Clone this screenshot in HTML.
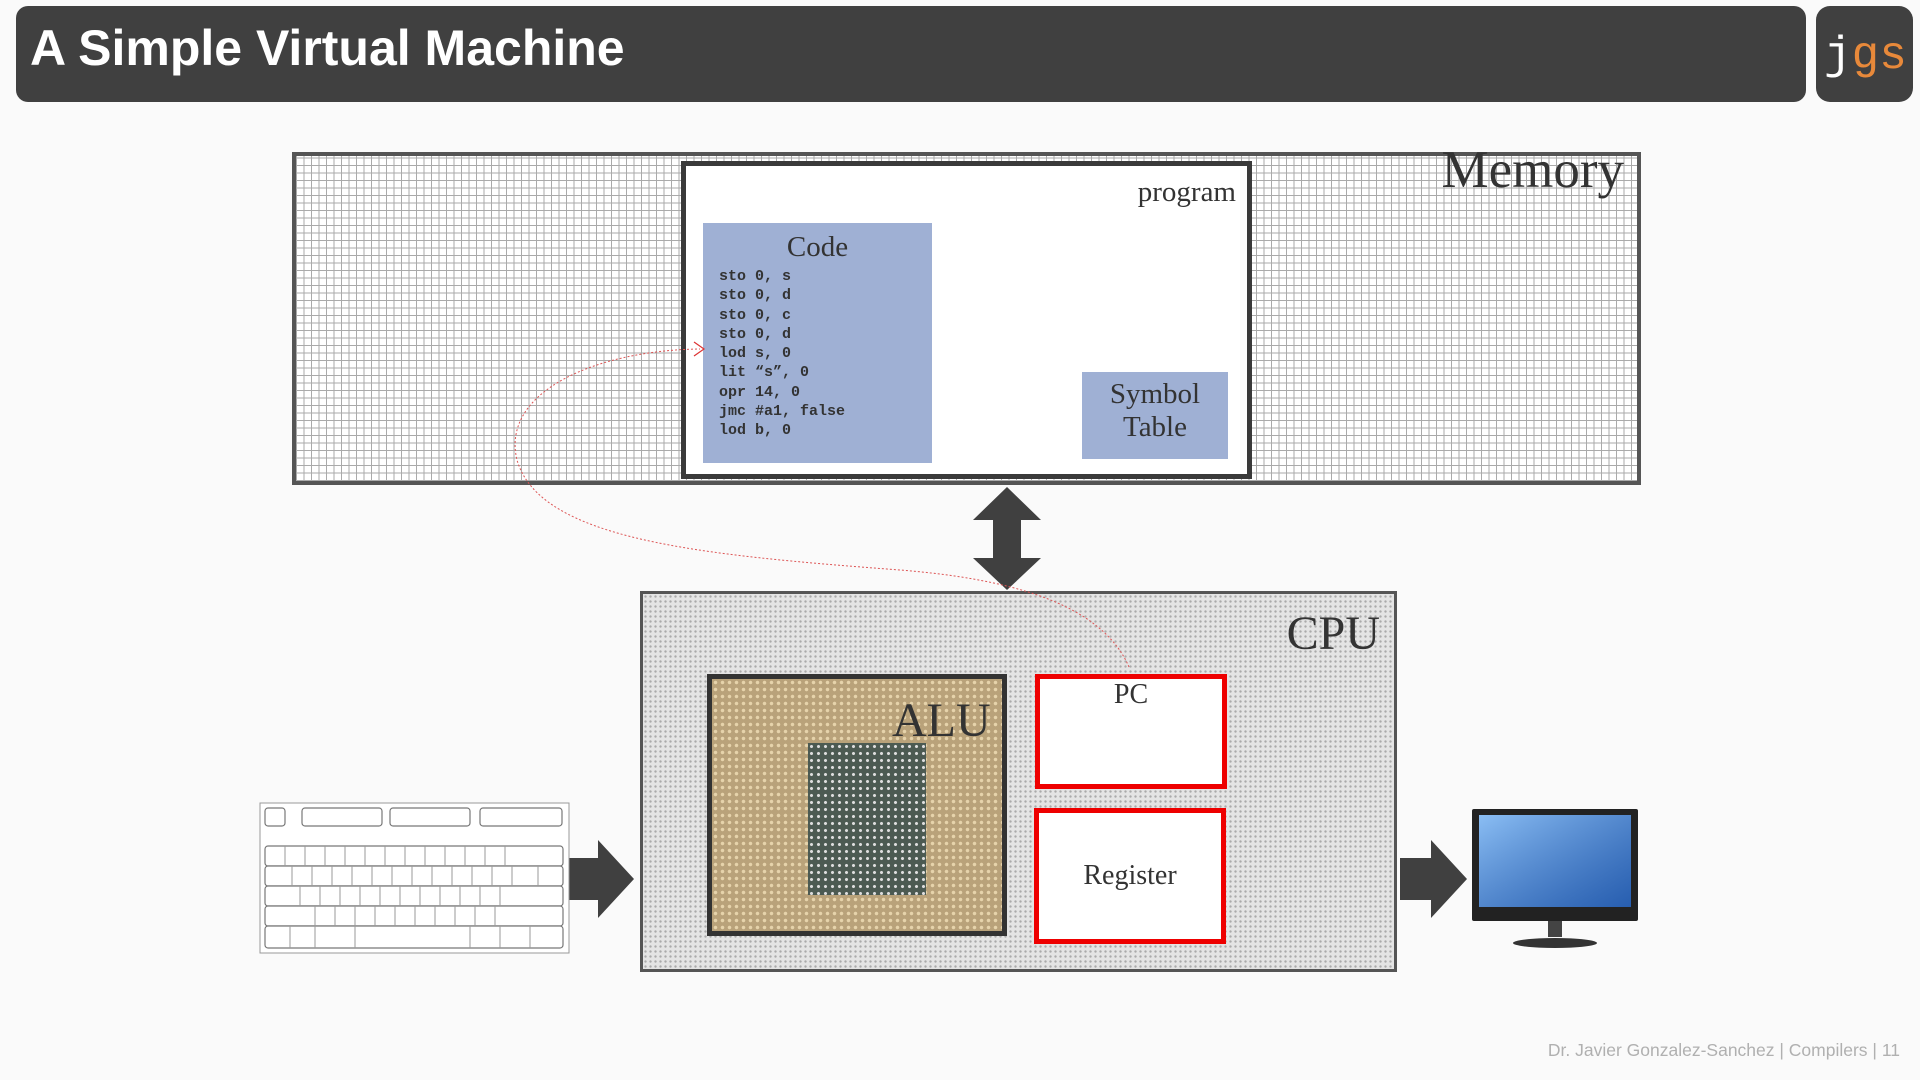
<!DOCTYPE html>
<html><head><meta charset="utf-8"><style>
body{margin:0;width:1920px;height:1080px;background:#fafafa;position:relative;overflow:hidden;font-family:"Liberation Serif",serif;}
div{position:absolute;box-sizing:border-box;}
.hdr{left:16px;top:6px;width:1790px;height:96px;background:#404040;border-radius:12px;}
.ttl{left:30px;top:19px;font:bold 50px "Liberation Sans",sans-serif;color:#fff;}
.logo{left:1816px;top:6px;width:97px;height:96px;background:#404040;border-radius:14px;font:46px "Liberation Mono",monospace;color:#fff;padding:24px 0 0 8px;}
.mem{left:292px;top:152px;width:1349px;height:333px;border:4px solid #555;background-color:#fff;
background-image:repeating-linear-gradient(0deg,#aaa 0 1px,transparent 1px 7.5px),repeating-linear-gradient(90deg,#aaa 0 1px,transparent 1px 7.5px);}
.prog{left:681px;top:161px;width:571px;height:318px;border:5px solid #3a3a3a;background:#fff;}
.code{left:703px;top:223px;width:229px;height:240px;background:#9fb0d4;}
.sym{left:1082px;top:372px;width:146px;height:87px;background:#9fb0d4;color:#333;font-size:29px;text-align:center;line-height:33px;padding-top:6px;}
pre{margin:0;font:bold 15px/19.3px "Liberation Mono",monospace;color:#333;position:absolute;left:16px;top:44px;}
.cpu{left:640px;top:591px;width:757px;height:381px;border:3px solid #555;background-color:#e4e4e4;
background-image:radial-gradient(#aaa 1px,transparent 1.4px);background-size:5px 5px;}
.alu{left:707px;top:674px;width:300px;height:262px;border:5px solid #333;background-color:#b9a27a;
background-image:radial-gradient(#e6d3ab 1.5px,transparent 2px);background-size:7px 7px;}
.die{left:96px;top:64px;width:118px;height:152px;background:#4c5a52;background-image:radial-gradient(#ddd 1.3px,transparent 1.8px);background-size:7px 7px;}
.red{border:5px solid #e00;background:#fff;color:#333;text-align:center;font-size:28px;}
.lbl{color:#333;}
</style></head><body>
<div class="hdr"></div>
<div class="ttl">A Simple Virtual Machine</div>
<div class="logo">j<span style="color:#e8893a">gs</span></div>

<div class="mem"></div>
<div class="lbl" style="top:140px;left:400px;text-align:right;width:1224px;font-size:53px">Memory</div>
<div class="prog"></div>
<div class="lbl" style="left:1000px;top:176px;width:236px;text-align:right;font-size:29px">program</div>
<div class="code"><div style="left:0;top:8px;width:229px;text-align:center;font-size:29px;color:#333">Code</div>
<pre>sto 0, s
sto 0, d
sto 0, c
sto 0, d
lod s, 0
lit “s”, 0
opr 14, 0
jmc #a1, false
lod b, 0</pre></div>
<div class="sym">Symbol<br>Table</div>

<svg style="position:absolute;left:0;top:0" width="1920" height="1080">
<polygon points="1007,487 1041,520 1021,520 1021,558 1041,558 1007,590 973,558 993,558 993,520 973,520" fill="#404040"/>
<polygon points="569,858 598,858 598,840 634,879 598,918 598,900 569,900" fill="#404040"/>
<polygon points="1400,858 1431,858 1431,840 1467,879 1431,918 1431,900 1400,900" fill="#404040"/>
</svg>

<div class="cpu"></div>
<div class="lbl" style="left:1200px;top:606px;width:180px;text-align:right;font-size:48px">CPU</div>
<div class="alu"><div class="die"></div><div style="left:180px;top:14px;font-size:48px;color:#333">ALU</div></div>
<div class="red" style="left:1035px;top:674px;width:192px;height:115px;padding-top:0">PC</div>
<div class="red" style="left:1034px;top:808px;width:192px;height:136px;padding-top:47px">Register</div>

<svg style="position:absolute;left:0;top:0" width="1920" height="1080">
<path d="M1129,667 C1100,600 1000,578 900,570 C700,555 540,540 517,460 C500,390 600,350 700,349" fill="none" stroke="#d55" stroke-width="1" stroke-dasharray="2,2"/>
<path d="M694,342 L704,349 L694,356" fill="none" stroke="#d33" stroke-width="1.2"/>
<g transform="translate(260,803)">
<rect x="0" y="0" width="309" height="150" fill="#fff" stroke="#999"/>
<g fill="#fff" stroke="#777" stroke-width="1.2">
<rect x="5" y="5" width="20" height="18" rx="3"/>
<rect x="42" y="5" width="80" height="18" rx="3"/><rect x="130" y="5" width="80" height="18" rx="3"/><rect x="220" y="5" width="82" height="18" rx="3"/>
<rect x="5" y="43" width="298" height="20" rx="3"/><rect x="5" y="63" width="298" height="20" rx="3"/>
<rect x="5" y="83" width="298" height="20" rx="3"/><rect x="5" y="103" width="298" height="20" rx="3"/><rect x="5" y="123" width="298" height="22" rx="3"/>
</g>
<g stroke="#999" stroke-width="1">
<path d="M25,43v20M45,43v20M65,43v20M85,43v20M105,43v20M125,43v20M145,43v20M165,43v20M185,43v20M205,43v20M225,43v20M245,43v20M32,63v20M52,63v20M72,63v20M92,63v20M112,63v20M132,63v20M152,63v20M172,63v20M192,63v20M212,63v20M232,63v20M252,63v20M278,63v20M40,83v20M60,83v20M80,83v20M100,83v20M120,83v20M140,83v20M160,83v20M180,83v20M200,83v20M220,83v20M240,83v20M55,103v20M75,103v20M95,103v20M115,103v20M135,103v20M155,103v20M175,103v20M195,103v20M215,103v20M235,103v20M30,123v22M55,123v22M95,123v22M210,123v22M240,123v22M270,123v22"/>
</g></g>
<g transform="translate(1472,809)">
<rect x="0" y="0" width="166" height="112" fill="#222" rx="2"/>
<rect x="7" y="6" width="152" height="92" fill="#3a75c8"/>
<rect x="7" y="6" width="152" height="92" fill="url(#g)"/>
<defs><linearGradient id="g" x1="0" y1="0" x2="1" y2="1"><stop offset="0" stop-color="#9fd0ff" stop-opacity=".8"/><stop offset="1" stop-color="#1b4fa0" stop-opacity=".6"/></linearGradient></defs>
<rect x="76" y="112" width="14" height="16" fill="#444"/>
<ellipse cx="83" cy="134" rx="42" ry="5" fill="#333"/>
</g>
</svg>

<div style="top:1040px;left:400px;width:1500px;text-align:right;font:17.5px 'Liberation Sans',sans-serif;color:#b0b0b0">Dr. Javier Gonzalez-Sanchez | Compilers | 11</div>
</body></html>
